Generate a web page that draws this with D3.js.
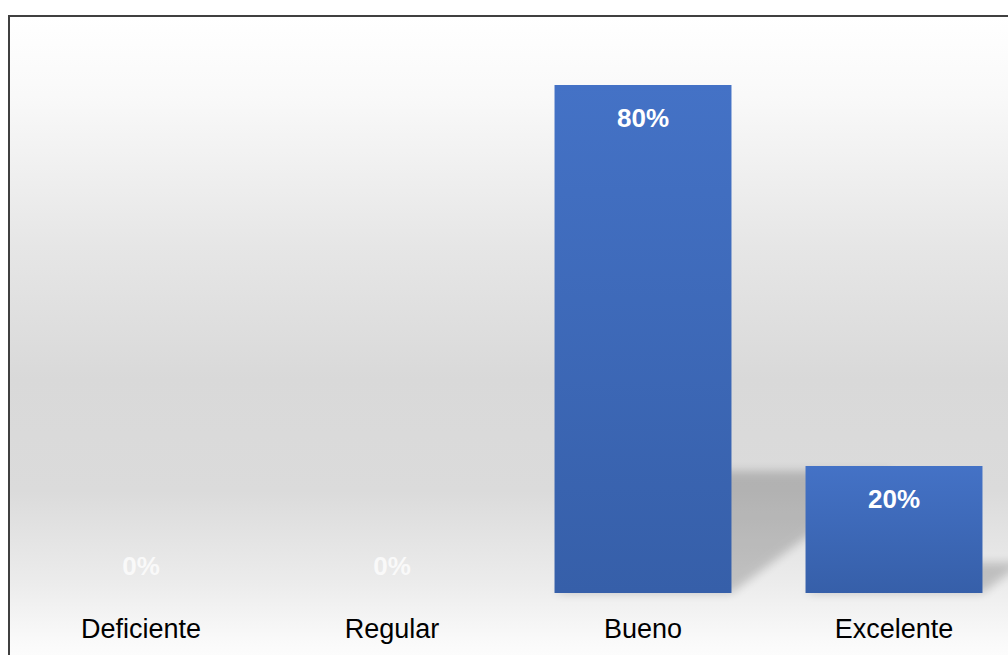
<!DOCTYPE html>
<html>
<head>
<meta charset="utf-8">
<script src="https://cdn.jsdelivr.net/npm/d3@7"></script>
<style>
  html, body { margin: 0; padding: 0; background: #fff; }
  svg { display: block; font-family: "Liberation Sans", Arial, sans-serif; }
</style>
</head>
<body>
<svg id="chart" width="1008" height="655"></svg>
<script>
// datos
const categorias = ["Deficiente", "Regular", "Bueno", "Excelente"]
const valores = [0, 0, 80, 20]
const etiquetas = ["0%", "0%", "80%", "20%"]

const svg = d3.select("#chart")
const defs = svg.append("defs")

// fondo con degradado vertical (blanco - gris - blanco)
const fondo = defs.append("linearGradient")
    .attr("id", "fondo")
    .attr("x1", 0).attr("y1", 0).attr("x2", 0).attr("y2", 1)
const paradas = [[0, "#ffffff"], [0.12, "#f9f9f9"], [0.35, "#e6e6e6"], [0.55, "#d9d9d9"], [0.72, "#dbdbdb"], [0.86, "#ececec"], [0.95, "#fafafa"], [1, "#ffffff"]]
paradas.forEach(p => fondo.append("stop").attr("offset", p[0]).attr("stop-color", p[1]))

// degradado de las barras
const barraGrad = defs.append("linearGradient")
    .attr("id", "barra")
    .attr("x1", 0).attr("y1", 0).attr("x2", 0).attr("y2", 1)
barraGrad.append("stop").attr("offset", "0%").attr("stop-color", "#4472c6")
barraGrad.append("stop").attr("offset", "100%").attr("stop-color", "#365fa9")

// sombra difuminada
defs.append("filter")
    .attr("id", "difumina")
    .attr("x", "-50%").attr("y", "-50%").attr("width", "200%").attr("height", "200%")
    .append("feGaussianBlur").attr("stdDeviation", 5)

// marco del grafico
svg.append("rect")
    .attr("x", 9).attr("y", 16)
    .attr("width", 1020).attr("height", 660)
    .attr("fill", "url(#fondo)")
    .attr("stroke", "#404040")
    .attr("stroke-width", 2)

const base = 593
const x = d3.scaleBand()
    .domain(categorias)
    .range([15.5, 1019.5])
    .paddingInner(0.295)
    .paddingOuter(0.1475)

const y = d3.scaleLinear()
    .domain([0, 80])
    .range([base, 85])

const datos = categorias.map((c, i) => ({ cat: c, val: valores[i], txt: etiquetas[i] }))

// sombras en perspectiva detras de las barras
svg.append("g")
    .selectAll("path")
    .data(datos.filter(d => d.val > 0))
    .enter()
    .append("path")
    .attr("d", d => {
        const x0 = x(d.cat), x1 = x0 + x.bandwidth()
        const h = base - y(d.val)
        const alto = h * 0.24, dx = h * 0.32
        return "M" + x0 + "," + base + "L" + x1 + "," + base +
            "L" + (x1 + dx) + "," + (base - alto) + "L" + (x0 + dx) + "," + (base - alto) + "Z"
    })
    .attr("fill", "#000")
    .attr("opacity", 0.18)
    .attr("filter", "url(#difumina)")

// barras
svg.append("g")
    .selectAll("rect")
    .data(datos)
    .enter()
    .append("rect")
    .attr("x", d => x(d.cat))
    .attr("y", d => y(d.val))
    .attr("width", x.bandwidth())
    .attr("height", d => base - y(d.val))
    .attr("fill", "url(#barra)")

// etiquetas de valor
svg.append("g")
    .selectAll("text")
    .data(datos)
    .enter()
    .append("text")
    .attr("x", d => x(d.cat) + x.bandwidth() / 2)
    .attr("y", d => d.val > 0 ? y(d.val) + 42 : base - 18)
    .attr("text-anchor", "middle")
    .attr("font-size", 26)
    .attr("font-weight", "bold")
    .attr("fill", "#ffffff")
    .attr("fill-opacity", d => d.val > 0 ? 1 : 0.75)
    .text(d => d.txt)

// eje x con las categorias
const ejeX = svg.append("g")
    .attr("transform", "translate(0," + base + ")")
    .call(d3.axisBottom(x).tickSize(0).tickPadding(26))
ejeX.select(".domain").remove()
ejeX.selectAll("text")
    .attr("font-size", 27)
    .attr("font-family", "Liberation Sans, Arial, sans-serif")
    .attr("fill", "#000")
</script>
</body>
</html>
